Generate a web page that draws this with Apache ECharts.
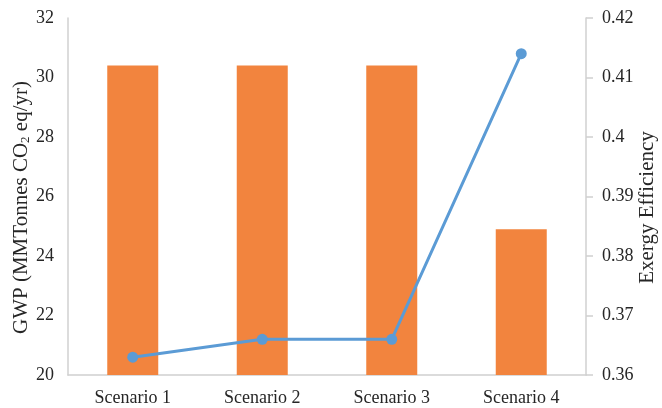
<!DOCTYPE html>
<html>
<head>
<meta charset="utf-8">
<script src="https://cdn.jsdelivr.net/npm/echarts@6/dist/echarts.min.js"></script>
<style>
  html, body { margin: 0; padding: 0; background: #fff; }
  #chart { width: 662px; height: 408px; }
</style>
</head>
<body>
<div id="chart"></div>
<script>
// Scenario comparison: global warming potential (bars) vs exergy efficiency (line)
const categories = ['Scenario 1', 'Scenario 2', 'Scenario 3', 'Scenario 4'];
const gwpValues = [30.4, 30.4, 30.4, 24.9];
const exergyValues = [0.363, 0.366, 0.366, 0.414];

const FONT = '"Liberation Serif", "DejaVu Serif", serif';
const TEXT = '#262626';
const AXIS_GRAY = '#d0d0d0';
const FS = 18;
const NAME_FS = 21;

const chart = echarts.init(document.getElementById('chart'));
chart.setOption({
  animation: false,
  textStyle: { fontFamily: FONT },
  grid: { left: 68, right: 76, top: 18, bottom: 33, outerBoundsMode: 'none', containLabel: false },
  xAxis: {
    type: 'category',
    data: categories,
    axisLine: { lineStyle: { color: AXIS_GRAY, width: 1.5 } },
    axisTick: { show: false },
    axisLabel: { color: TEXT, fontSize: FS, fontFamily: FONT, margin: 14 }
  },
  yAxis: [
    {
      type: 'value',
      min: 20, max: 32, interval: 2,
      name: '{t|GWP (MMTonnes CO}{s|2}{t| eq/yr)}',
      nameLocation: 'middle',
      nameGap: 34,
      nameRotate: 90,
      nameMoveOverlap: false,
      nameTextStyle: {
        padding: [0, 22, 0, 0],
        rich: {
          t: { fontSize: NAME_FS, fontFamily: FONT, color: TEXT, lineHeight: 26, verticalAlign: 'middle' },
          s: { fontSize: 13, fontFamily: FONT, color: TEXT, lineHeight: 26, verticalAlign: 'bottom', padding: [0, 0, 2, 0] }
        }
      },
      axisLine: { show: true, lineStyle: { color: AXIS_GRAY, width: 1.5 } },
      axisTick: { show: false },
      splitLine: { show: false },
      axisLabel: { color: TEXT, fontSize: FS, fontFamily: FONT, margin: 14 }
    },
    {
      type: 'value',
      min: 0.36, max: 0.42, interval: 0.01,
      position: 'right',
      name: 'Exergy Efficiency',
      nameLocation: 'middle',
      nameGap: 51,
      nameRotate: 90,
      nameMoveOverlap: false,
      nameTextStyle: { color: TEXT, fontSize: NAME_FS, fontFamily: FONT, padding: [0, 22, 0, 0] },
      axisLine: { show: true, lineStyle: { color: AXIS_GRAY, width: 1.5 } },
      axisTick: { show: true, length: 7, lineStyle: { color: AXIS_GRAY, width: 1.5 } },
      splitLine: { show: false },
      axisLabel: {
        color: TEXT, fontSize: FS, fontFamily: FONT, margin: 16,
        formatter: v => String(parseFloat(v.toFixed(2)))
      }
    }
  ],
  series: [
    {
      type: 'bar',
      data: gwpValues,
      yAxisIndex: 0,
      barWidth: 51,
      itemStyle: { color: '#F2843E' }
    },
    {
      type: 'line',
      data: exergyValues,
      yAxisIndex: 1,
      symbol: 'circle',
      symbolSize: 11,
      lineStyle: { color: '#5B9BD5', width: 3 },
      itemStyle: { color: '#5B9BD5' }
    }
  ]
});
</script>
</body>
</html>
